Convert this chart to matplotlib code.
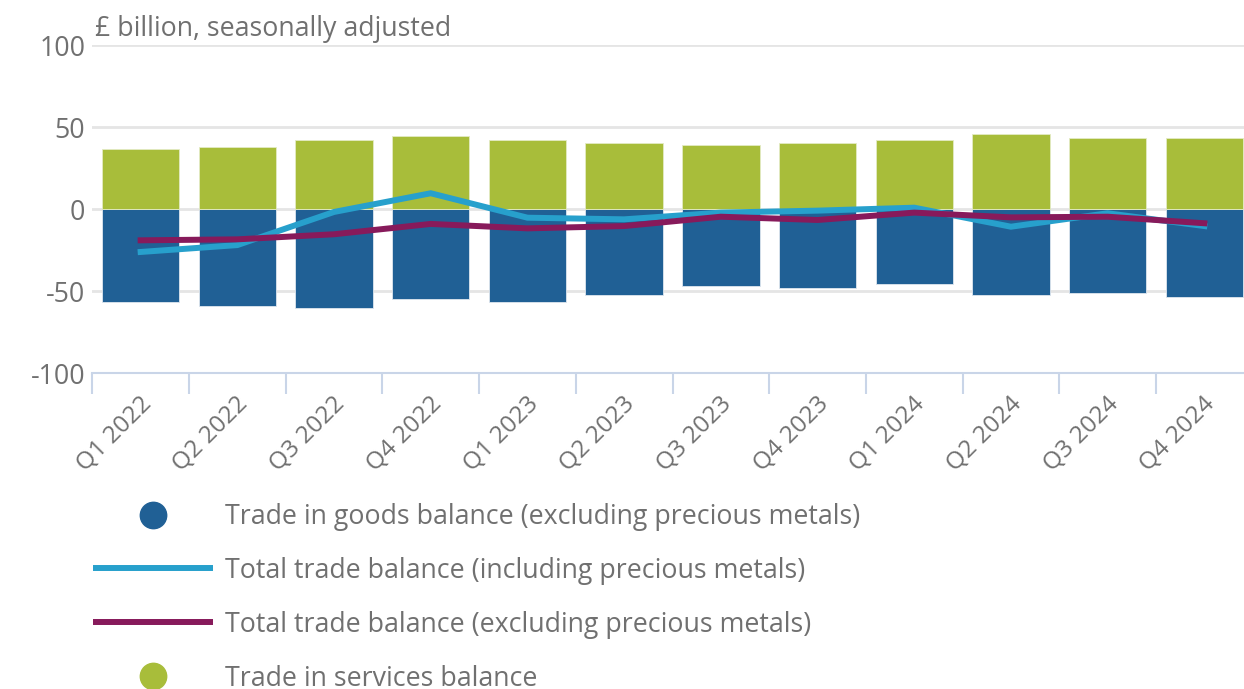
import matplotlib
matplotlib.use("Agg")
import matplotlib.pyplot as plt
from matplotlib.lines import Line2D
import matplotlib.transforms as mtransforms
import numpy as np

quarters = ["Q1 2022", "Q2 2022", "Q3 2022", "Q4 2022",
            "Q1 2023", "Q2 2023", "Q3 2023", "Q4 2023",
            "Q1 2024", "Q2 2024", "Q3 2024", "Q4 2024"]
goods_excl = [-56.5, -59.1, -60.6, -55.1, -56.5, -52.2, -46.8, -48.2, -45.5, -52.2, -51.0, -53.7]
services = [36.4, 37.8, 41.9, 44.7, 41.9, 40.4, 39.2, 40.4, 41.9, 45.9, 43.3, 43.3]
total_incl = [-26.2, -22.0, -1.8, 9.6, -5.3, -6.3, -2.2, -1.0, 0.8, -10.8, -2.6, -10.4]
total_excl = [-19.1, -18.5, -15.4, -9.1, -11.8, -10.4, -4.7, -6.7, -2.2, -5.1, -4.7, -8.7]
yticks = [-100, -50, 0, 50, 100]
ylabel = "£ billion, seasonally adjusted"
legend_labels = ["Trade in goods balance (excluding precious metals)",
                 "Total trade balance (including precious metals)",
                 "Total trade balance (excluding precious metals)",
                 "Trade in services balance"]

C_GOODS = "#206095"
C_INCL = "#27a0cc"
C_EXCL = "#871a5b"
C_SERV = "#a8bd3a"
TXT = "#707070"
GRID = "#e5e5e5"
AXC = "#c9d5e8"
FS = 19.3
FS_X = 17.6

plt.rcParams['font.family'] = ['Open Sans', 'DejaVu Sans']

W, H = 1244, 689
fig = plt.figure(figsize=(W / 100, H / 100), dpi=100)
left_px = 92.3
step_px = 96.7
top_px, bot_px = 45, 373
ax = fig.add_axes([left_px / W, 1 - bot_px / H, 1 - left_px / W, (bot_px - top_px) / H])

x = np.arange(len(quarters))
ax.bar(x, goods_excl, width=0.8, color=C_GOODS, edgecolor="#dfe6ef", linewidth=0.6, zorder=2)
ax.bar(x, services, width=0.8, color=C_SERV, edgecolor="#e3ebc4", linewidth=0.6, zorder=2)
ax.plot(x, total_incl, color=C_INCL, linewidth=4.3, zorder=3, solid_joinstyle='miter')
ax.plot(x, total_excl, color=C_EXCL, linewidth=4.3, zorder=4, solid_joinstyle='miter')

ax.set_ylim(-100, 100)
ax.set_xlim(-0.5, -0.5 + (W - left_px) / step_px)
ax.set_yticks(yticks)
ax.set_yticklabels([str(v) for v in yticks])
ax.yaxis.grid(True, color=GRID, linewidth=2, zorder=0)
ax.set_axisbelow(True)
ax.tick_params(axis='y', length=0, pad=5, labelsize=FS, labelcolor=TXT)

# category boundaries as tick marks, labels drawn separately
ax.set_xticks(x - 0.5)
ax.tick_params(axis='x', length=15, width=1.5, color=AXC, labelbottom=False)

base = mtransforms.blended_transform_factory(ax.transData, ax.transAxes)
off = mtransforms.ScaledTranslation(-1 / 100, -19 / 100, fig.dpi_scale_trans)
for xi, q in zip(x, quarters):
    ax.text(xi, 0, q, transform=base + off, rotation=45, rotation_mode='anchor',
            ha='right', va='top', fontsize=FS_X, color=TXT, clip_on=False)

for s in ['top', 'right', 'left']:
    ax.spines[s].set_visible(False)
ax.spines['bottom'].set_color(AXC)
ax.spines['bottom'].set_linewidth(1.5)
ax.spines['bottom'].set_position(('data', -100))

fig.text(95 / W, 1 - 29 / H, ylabel, fontsize=FS, color=TXT, ha='left', va='center')

handles = [
    Line2D([], [], linestyle='none', marker='o', markersize=19, color=C_GOODS),
    Line2D([], [], color=C_INCL, linewidth=4.3, solid_capstyle='butt'),
    Line2D([], [], color=C_EXCL, linewidth=4.3, solid_capstyle='butt'),
    Line2D([], [], linestyle='none', marker='o', markersize=19, color=C_SERV),
]
leg = fig.legend(handles, legend_labels, loc='upper left', bbox_to_anchor=(93 / W, 1 - 503 / H),
                 frameon=False, fontsize=FS, handlelength=4.48, handletextpad=0.45,
                 labelspacing=0.965, borderaxespad=0, borderpad=0)
for t in leg.get_texts():
    t.set_color(TXT)

fig.savefig("out.png", dpi=100)
